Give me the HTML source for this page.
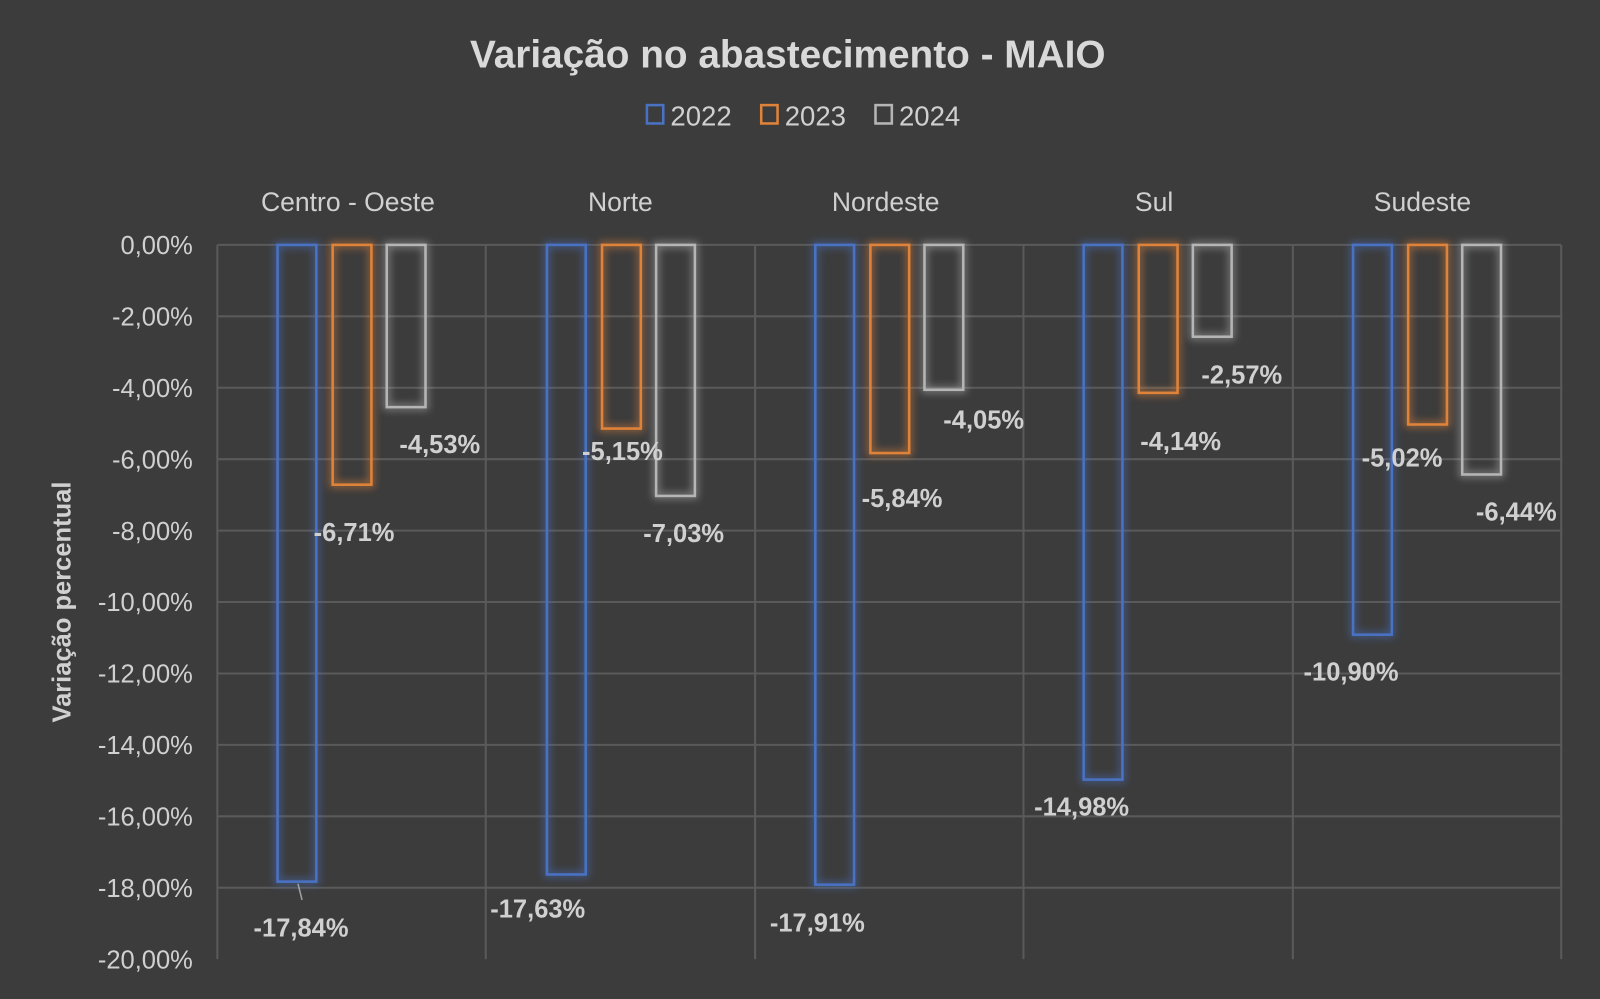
<!DOCTYPE html>
<html><head><meta charset="utf-8"><style>
html,body{margin:0;padding:0;background:#3c3c3c;}
svg{display:block;}
</style></head><body>
<svg width="1600" height="999" viewBox="0 0 1600 999" xmlns="http://www.w3.org/2000/svg" font-family="Liberation Sans, sans-serif">
<defs>
<filter id="g" x="-50%" y="-10%" width="200%" height="120%"><feGaussianBlur stdDeviation="4"/></filter>
</defs>
<rect width="1600" height="999" fill="#3c3c3c"/>
<g transform="scale(1.0204)">
<text x="772" y="66" text-anchor="middle" font-size="38" font-weight="bold" fill="#d9d9d9">Variação no abastecimento - MAIO</text>
<g font-size="27" fill="#d0d0d0">
<rect x="634" y="103" width="16" height="18" fill="none" stroke="#4a72c4" stroke-width="2.5"/><text x="657" y="123">2022</text>
<rect x="746" y="103" width="16" height="18" fill="none" stroke="#e0833a" stroke-width="2.5"/><text x="769" y="123">2023</text>
<rect x="858" y="103" width="16" height="18" fill="none" stroke="#b5b5b5" stroke-width="2.5"/><text x="881" y="123">2024</text>
</g>
<g stroke="#5a5a5a" stroke-width="2">
<line x1="213" y1="240" x2="1530" y2="240"/><line x1="213" y1="310" x2="1530" y2="310"/><line x1="213" y1="380" x2="1530" y2="380"/><line x1="213" y1="450" x2="1530" y2="450"/><line x1="213" y1="520" x2="1530" y2="520"/><line x1="213" y1="590" x2="1530" y2="590"/><line x1="213" y1="660" x2="1530" y2="660"/><line x1="213" y1="730" x2="1530" y2="730"/><line x1="213" y1="800" x2="1530" y2="800"/><line x1="213" y1="870" x2="1530" y2="870"/>
<line x1="213" y1="240" x2="213" y2="940"/><line x1="476" y1="240" x2="476" y2="940"/><line x1="740" y1="240" x2="740" y2="940"/><line x1="1003" y1="240" x2="1003" y2="940"/><line x1="1267" y1="240" x2="1267" y2="940"/><line x1="1530" y1="240" x2="1530" y2="940"/>
</g>
<g font-size="25" fill="#d0d0d0" text-anchor="end">
<text x="189" y="249">0,00%</text><text x="189" y="319">-2,00%</text><text x="189" y="389">-4,00%</text><text x="189" y="459">-6,00%</text><text x="189" y="529">-8,00%</text><text x="189" y="599">-10,00%</text><text x="189" y="669">-12,00%</text><text x="189" y="739">-14,00%</text><text x="189" y="809">-16,00%</text><text x="189" y="879">-18,00%</text><text x="189" y="949">-20,00%</text>
</g>
<text transform="translate(69,590) rotate(-90)" text-anchor="middle" font-size="25" font-weight="bold" fill="#d0d0d0">Variação percentual</text>
<g font-size="26" fill="#d0d0d0" text-anchor="middle">
<text x="341" y="207">Centro - Oeste</text><text x="608" y="207">Norte</text><text x="868" y="207">Nordeste</text><text x="1131" y="207">Sul</text><text x="1394" y="207">Sudeste</text>
</g>
<g fill="none" stroke-width="2.5">
<g filter="url(#g)" stroke-width="6" opacity="0.55">
<rect x="272" y="240" width="38" height="624" stroke="#4a72c4"/><rect x="326" y="240" width="38" height="235" stroke="#e0833a"/><rect x="379" y="240" width="38" height="159" stroke="#b5b5b5"/>
<rect x="536" y="240" width="38" height="617" stroke="#4a72c4"/><rect x="590" y="240" width="38" height="180" stroke="#e0833a"/><rect x="643" y="240" width="38" height="246" stroke="#b5b5b5"/>
<rect x="799" y="240" width="38" height="627" stroke="#4a72c4"/><rect x="853" y="240" width="38" height="204" stroke="#e0833a"/><rect x="906" y="240" width="38" height="142" stroke="#b5b5b5"/>
<rect x="1062" y="240" width="38" height="524" stroke="#4a72c4"/><rect x="1116" y="240" width="38" height="145" stroke="#e0833a"/><rect x="1169" y="240" width="38" height="90" stroke="#b5b5b5"/>
<rect x="1326" y="240" width="38" height="382" stroke="#4a72c4"/><rect x="1380" y="240" width="38" height="176" stroke="#e0833a"/><rect x="1433" y="240" width="38" height="225" stroke="#b5b5b5"/>
</g>
<rect x="272" y="240" width="38" height="624" stroke="#4a72c4"/><rect x="326" y="240" width="38" height="235" stroke="#e0833a"/><rect x="379" y="240" width="38" height="159" stroke="#b5b5b5"/>
<rect x="536" y="240" width="38" height="617" stroke="#4a72c4"/><rect x="590" y="240" width="38" height="180" stroke="#e0833a"/><rect x="643" y="240" width="38" height="246" stroke="#b5b5b5"/>
<rect x="799" y="240" width="38" height="627" stroke="#4a72c4"/><rect x="853" y="240" width="38" height="204" stroke="#e0833a"/><rect x="906" y="240" width="38" height="142" stroke="#b5b5b5"/>
<rect x="1062" y="240" width="38" height="524" stroke="#4a72c4"/><rect x="1116" y="240" width="38" height="145" stroke="#e0833a"/><rect x="1169" y="240" width="38" height="90" stroke="#b5b5b5"/>
<rect x="1326" y="240" width="38" height="382" stroke="#4a72c4"/><rect x="1380" y="240" width="38" height="176" stroke="#e0833a"/><rect x="1433" y="240" width="38" height="225" stroke="#b5b5b5"/>
</g>
<line x1="292" y1="866" x2="296" y2="882" stroke="#a0a0a0" stroke-width="1.5"/>
<g font-size="25" font-weight="bold" fill="#d0d0d0" text-anchor="middle">
<text x="295" y="918">-17,84%</text><text x="347" y="530">-6,71%</text><text x="431" y="444">-4,53%</text>
<text x="527" y="899">-17,63%</text><text x="610" y="451">-5,15%</text><text x="670" y="531">-7,03%</text>
<text x="801" y="913">-17,91%</text><text x="884" y="497">-5,84%</text><text x="964" y="420">-4,05%</text>
<text x="1060" y="799">-14,98%</text><text x="1157" y="441">-4,14%</text><text x="1217" y="376">-2,57%</text>
<text x="1324" y="667">-10,90%</text><text x="1374" y="457">-5,02%</text><text x="1486" y="510">-6,44%</text>
</g>
</g>
</svg>
</body></html>
